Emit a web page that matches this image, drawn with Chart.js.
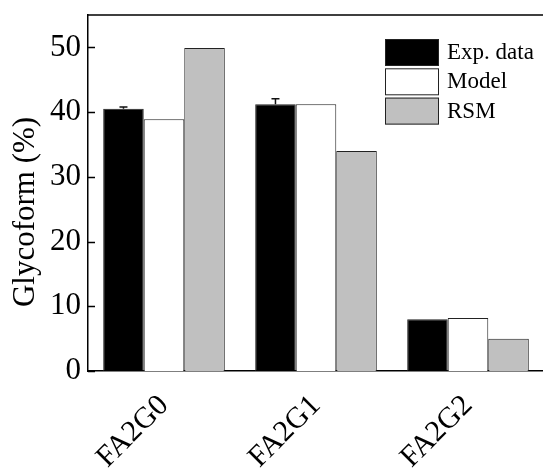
<!DOCTYPE html>
<html>
<head>
<meta charset="utf-8">
<script src="https://cdn.jsdelivr.net/npm/chart.js@4.4.0/dist/chart.umd.min.js"></script>
<style>
  html, body { margin: 0; padding: 0; background: #fff; overflow: hidden; }
  #wrap { position: relative; width: 548px; height: 473px; }
</style>
</head>
<body>
<div id="wrap"><canvas id="glycoChart"></canvas></div>
<script>
const categories = ['FA2G0', 'FA2G1', 'FA2G2'];
const expData = [40.5, 41.2, 8.0];
const expError = [0.3, 0.85, 0];
const modelData = [38.9, 41.2, 8.2];
const rsmData = [49.9, 34.0, 5.0];
const seriesLabels = ['Exp. data', 'Model', 'RSM'];
const yTickLabels = ['0', '10', '20', '30', '40', '50'];

const serif = '"Liberation Serif", "Times New Roman", serif';

// upper error bars on the experimental series
const errorBars = {
  id: 'errorBars',
  afterDatasetsDraw(chart) {
    const { ctx, scales: { y } } = chart;
    const meta = chart.getDatasetMeta(0);
    ctx.save();
    ctx.strokeStyle = '#111';
    ctx.lineWidth = 1.5;
    meta.data.forEach((bar, i) => {
      if (!expError[i]) return;
      const top = y.getPixelForValue(expData[i] + expError[i]);
      ctx.beginPath();
      ctx.moveTo(bar.x, bar.y);
      ctx.lineTo(bar.x, top);
      ctx.moveTo(bar.x - 4, top);
      ctx.lineTo(bar.x + 4, top);
      ctx.stroke();
    });
    ctx.restore();
  }
};

// frame line on top and inward y ticks
const frame = {
  id: 'frame',
  afterDraw(chart) {
    const { ctx, chartArea: a, scales: { y } } = chart;
    ctx.save();
    ctx.strokeStyle = '#000';
    ctx.lineWidth = 1.5;
    ctx.beginPath();
    ctx.moveTo(a.left, a.top);
    ctx.lineTo(a.right, a.top);
    y.ticks.forEach((t) => {
      const py = Math.round(y.getPixelForValue(t.value)) + 0.5;
      const len = t.value % 10 === 0 ? 7 : 4;
      ctx.moveTo(a.left, py);
      ctx.lineTo(a.left + len, py);
    });
    ctx.stroke();

    // y axis title
    ctx.fillStyle = '#000';
    ctx.font = '31px ' + serif;
    ctx.textAlign = 'center';
    ctx.textBaseline = 'middle';
    ctx.translate(26, (a.top + a.bottom) / 2 + 19);
    ctx.rotate(-Math.PI / 2);
    ctx.fillText('Glycoform (%)', 0, 0);
    ctx.restore();
  }
};

// legend boxes in the upper right corner of the plot
const boxLegend = {
  id: 'boxLegend',
  afterDraw(chart) {
    const { ctx, chartArea: a } = chart;
    const x0 = a.right - 159;
    const y0 = a.top + 24;
    ctx.save();
    ctx.font = '23px ' + serif;
    ctx.textBaseline = 'middle';
    ctx.textAlign = 'left';
    chart.data.datasets.forEach((ds, i) => {
      const by = y0 + i * 29.3;
      ctx.fillStyle = ds.backgroundColor;
      ctx.fillRect(x0, by, 54, 27);
      ctx.strokeStyle = '#222';
      ctx.lineWidth = 1;
      ctx.strokeRect(x0 + 0.5, by + 0.5, 53, 26);
      ctx.fillStyle = '#000';
      ctx.fillText(ds.label, x0 + 62, by + 14);
    });
    ctx.restore();
  }
};

new Chart(document.getElementById('glycoChart'), {
  type: 'bar',
  data: {
    labels: categories,
    datasets: [
      { label: seriesLabels[0], data: expData, backgroundColor: '#000000', borderColor: '#222', borderWidth: 1 },
      { label: seriesLabels[1], data: modelData, backgroundColor: '#ffffff', borderColor: '#222', borderWidth: 1 },
      { label: seriesLabels[2], data: rsmData, backgroundColor: '#c0c0c0', borderColor: '#222', borderWidth: 1 }
    ]
  },
  options: {
    responsive: true,
    maintainAspectRatio: false,
    animation: false,
    layout: { padding: { top: 15, right: 4, left: 0, bottom: 0 } },
    datasets: { bar: { categoryPercentage: 0.8, barPercentage: 1.0 } },
    plugins: { legend: { display: false }, tooltip: { enabled: false } },
    scales: {
      x: {
        grid: { display: false, drawTicks: false },
        border: { display: true, color: '#000', width: 1.5 },
        ticks: {
          color: '#000',
          font: { family: serif, size: 30 },
          minRotation: 45,
          maxRotation: 45,
          padding: 17
        },
        afterFit(scale) {
          scale.height = 102;
          scale.paddingLeft = 0;
          scale.paddingRight = 0;
        }
      },
      y: {
        min: 0,
        max: 55,
        grid: { display: false, drawTicks: false },
        border: { display: true, color: '#000', width: 1.5 },
        ticks: {
          stepSize: 5,
          color: '#000',
          font: { family: serif, size: 31 },
          padding: 7,
          callback: (v) => (v % 10 === 0 ? yTickLabels[v / 10] : '')
        },
        afterFit(scale) {
          scale.width = 88;
          scale.paddingTop = 0;
          scale.paddingBottom = 0;
        }
      }
    }
  },
  plugins: [errorBars, frame, boxLegend]
});
</script>
</body>
</html>
